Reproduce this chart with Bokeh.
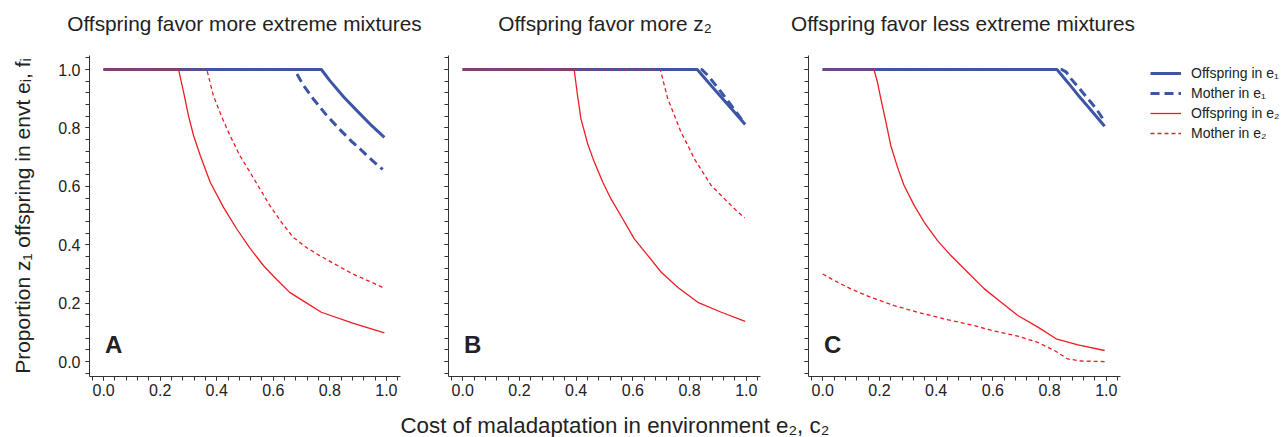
import numpy as np
from bokeh.plotting import figure
from bokeh.layouts import row, column
from bokeh.models import Range1d, Label, Legend, LegendItem, FixedTicker
from bokeh.embed import file_html
from bokeh.resources import INLINE

FONT = "Liberation Sans"
BLUE = "#3c55a5"
RED = "#ed1c24"
TXT = "#222222"

panel_titles = ["Offspring favor more extreme mixtures",
                "Offspring favor more z\u2082",
                "Offspring favor less extreme mixtures"]
panel_letters = ["A", "B", "C"]
tick_values = [0.0, 0.2, 0.4, 0.6, 0.8, 1.0]
tick_labels = ["0.0", "0.2", "0.4", "0.6", "0.8", "1.0"]
legend_labels = ["Offspring in e\u2081", "Mother in e\u2081",
                 "Offspring in e\u2082", "Mother in e\u2082"]
x_label = "Cost of maladaptation in environment e\u2082, c\u2082"
y_label = "Proportion z\u2081 offspring in envt e\u1d62, f\u1d62"

# Panel A
a_off1_x = [0.0, 0.770, 0.800, 0.850, 0.900, 0.950, 0.993]
a_off1_y = [1.0, 1.0, 0.962, 0.905, 0.855, 0.806, 0.768]
a_mom1_x = [0.0, 0.675, 0.705, 0.741, 0.788, 0.835, 0.876, 0.917, 0.952, 0.987]
a_mom1_y = [1.0, 1.0, 0.948, 0.900, 0.844, 0.795, 0.755, 0.719, 0.687, 0.658]
a_off2_x = [0.0, 0.265, 0.283, 0.300, 0.318, 0.342, 0.377, 0.424, 0.471, 0.518,
            0.565, 0.612, 0.658, 0.717, 0.770, 0.881, 0.993]
a_off2_y = [1.0, 1.0, 0.922, 0.842, 0.774, 0.705, 0.614, 0.528, 0.454, 0.388,
            0.329, 0.281, 0.237, 0.201, 0.169, 0.132, 0.098]
a_mom2_x = [0.0, 0.365, 0.388, 0.418, 0.447, 0.482, 0.518, 0.553, 0.588, 0.629,
            0.670, 0.717, 0.764, 0.823, 0.881, 0.940, 0.987]
a_mom2_y = [1.0, 1.0, 0.911, 0.837, 0.774, 0.705, 0.648, 0.591, 0.534, 0.477,
            0.426, 0.391, 0.363, 0.331, 0.300, 0.275, 0.254]

# Panel B
b_off1_x = [0.0, 0.827, 0.865, 0.912, 0.953, 0.996]
b_off1_y = [1.0, 1.0, 0.957, 0.905, 0.860, 0.812]
b_mom1_x = [0.0, 0.843, 0.865, 0.912, 0.947, 0.982, 0.990]
b_mom1_y = [1.0, 1.0, 0.979, 0.922, 0.877, 0.831, 0.820]
b_off2_x = [0.0, 0.393, 0.405, 0.417, 0.441, 0.464, 0.494, 0.523, 0.564, 0.605,
            0.653, 0.700, 0.759, 0.829, 0.912, 0.996]
b_off2_y = [1.0, 1.0, 0.911, 0.831, 0.745, 0.683, 0.614, 0.557, 0.489, 0.420,
            0.363, 0.306, 0.254, 0.203, 0.169, 0.138]
b_mom2_x = [0.0, 0.697, 0.711, 0.723, 0.747, 0.770, 0.794, 0.817, 0.847, 0.876,
            0.906, 0.935, 0.965, 0.994]
b_mom2_y = [1.0, 1.0, 0.945, 0.900, 0.842, 0.785, 0.740, 0.694, 0.648, 0.603,
            0.574, 0.546, 0.517, 0.492]

# Panel C
c_off1_x = [0.0, 0.826, 0.865, 0.900, 0.947, 0.994]
c_off1_y = [1.0, 1.0, 0.955, 0.913, 0.860, 0.806]
c_mom1_x = [0.0, 0.843, 0.859, 0.876, 0.906, 0.935, 0.965, 0.988]
c_mom1_y = [1.0, 1.0, 0.991, 0.968, 0.934, 0.900, 0.865, 0.831]
c_off2_x = [0.0, 0.181, 0.193, 0.205, 0.223, 0.240, 0.264, 0.287, 0.323, 0.358,
            0.405, 0.452, 0.511, 0.570, 0.629, 0.688, 0.759, 0.823, 0.900, 0.994]
c_off2_y = [1.0, 1.0, 0.957, 0.900, 0.820, 0.740, 0.665, 0.603, 0.534, 0.477,
            0.414, 0.363, 0.306, 0.249, 0.203, 0.158, 0.118, 0.078, 0.057, 0.038]
c_mom2_x = [0.0, 0.052, 0.099, 0.170, 0.252, 0.335, 0.429, 0.523, 0.600, 0.688,
            0.758, 0.817, 0.864, 0.912, 0.994]
c_mom2_y = [0.300, 0.272, 0.249, 0.220, 0.192, 0.169, 0.146, 0.126, 0.106, 0.087,
            0.066, 0.038, 0.009, 0.002, 0.0]

panels = [
    (a_off1_x, a_off1_y, a_mom1_x, a_mom1_y, a_off2_x, a_off2_y, a_mom2_x, a_mom2_y),
    (b_off1_x, b_off1_y, b_mom1_x, b_mom1_y, b_off2_x, b_off2_y, b_mom2_x, b_mom2_y),
    (c_off1_x, c_off1_y, c_mom1_x, c_mom1_y, c_off2_x, c_off2_y, c_mom2_x, c_mom2_y),
]

TOP_H = 40
ROW_H = 366
BOT_H = 31
TOTAL_W = 1280
widths = [436, 348, 356]
borders_left = [89, 12, 24]
borders_right = [36, 24, 20]
title_centers = [244, 604.5, 962.5]
minor = [round(-0.04 + 0.04 * i, 2) for i in range(28)]


def strip(width, height):
    s = figure(width=width, height=height, output_backend="svg", toolbar_location=None,
               title=None, x_range=Range1d(0, width), y_range=Range1d(0, height),
               x_axis_location=None, y_axis_location=None,
               min_border_left=0, min_border_right=0, min_border_top=0, min_border_bottom=0)
    s.outline_line_color = None
    s.grid.visible = False
    return s


# title strip
pt = strip(TOTAL_W, TOP_H)
for i in range(3):
    pt.add_layout(Label(x=title_centers[i], y=TOP_H - 23.3, text=panel_titles[i],
                        text_font=FONT, text_font_size="20.8px", text_color=TXT,
                        text_align="center", text_baseline="middle"))

figs = []
for i, data in enumerate(panels):
    p = figure(width=widths[i], height=ROW_H, output_backend="svg", toolbar_location=None,
               title=None,
               x_range=Range1d(-0.05, 1.05), y_range=Range1d(-0.051, 1.048),
               min_border_left=borders_left[i], min_border_right=borders_right[i],
               min_border_top=55 - TOP_H, min_border_bottom=ROW_H - (55 - TOP_H) - 321)
    p.outline_line_color = None
    p.grid.visible = False
    for ax in (p.xaxis[0], p.yaxis[0]):
        ax.ticker = FixedTicker(ticks=tick_values, minor_ticks=minor)
        ax.major_tick_out = 4
        ax.major_tick_in = 0
        ax.minor_tick_out = 4
        ax.minor_tick_in = 0
        ax.axis_line_color = "#333333"
        ax.major_tick_line_color = "#333333"
        ax.minor_tick_line_color = "#333333"
        ax.major_label_text_font = FONT
        ax.major_label_text_font_size = "16px"
        ax.major_label_text_color = TXT
        ax.axis_label_text_font = FONT
        ax.axis_label_text_font_size = "21px"
        ax.axis_label_text_font_style = "normal"
        ax.axis_label_text_color = TXT
    p.xaxis[0].major_label_standoff = 3
    p.yaxis[0].major_label_standoff = 5
    p.xaxis[0].major_label_overrides = {v: t for v, t in zip(tick_values, tick_labels)}
    if i == 0:
        p.yaxis[0].major_label_overrides = {v: t for v, t in zip(tick_values, tick_labels)}
        p.yaxis[0].axis_label = y_label
        p.yaxis[0].axis_label_standoff = 21
    else:
        p.yaxis[0].major_label_overrides = {v: "" for v in tick_values}
        p.yaxis[0].major_label_standoff = 0

    o1x, o1y, m1x, m1y, o2x, o2y, m2x, m2y = data
    p.line(o1x, o1y, line_color=BLUE, line_width=3)
    p.line(m1x, m1y, line_color=BLUE, line_width=3, line_dash="9 5")
    p.line(o2x, o2y, line_color=RED, line_width=1.3)
    p.line(m2x, m2y, line_color=RED, line_width=1.3, line_dash="4 3")

    p.add_layout(Label(x=0.005, y=0.060, text=panel_letters[i], text_font=FONT,
                       text_font_size="24px", text_font_style="bold",
                       text_color=TXT, text_baseline="middle"))
    figs.append(p)

# legend panel
LEG_W = TOTAL_W - sum(widths)
pl = figure(width=LEG_W, height=ROW_H, output_backend="svg", toolbar_location=None,
            title=None, x_range=Range1d(0, 1), y_range=Range1d(0, 1),
            x_axis_location=None, y_axis_location=None,
            min_border_left=0, min_border_right=0, min_border_top=3, min_border_bottom=0)
pl.outline_line_color = None
pl.grid.visible = False
nan = np.array([np.nan])
lr1 = pl.line(nan, nan, line_color=BLUE, line_width=3)
lr2 = pl.line(nan, nan, line_color=BLUE, line_width=3, line_dash="9 5")
lr3 = pl.line(nan, nan, line_color=RED, line_width=1.3)
lr4 = pl.line(nan, nan, line_color=RED, line_width=1.3, line_dash="4 3")
leg = Legend(items=[LegendItem(label=legend_labels[0], renderers=[lr1]),
                    LegendItem(label=legend_labels[1], renderers=[lr2]),
                    LegendItem(label=legend_labels[2], renderers=[lr3]),
                    LegendItem(label=legend_labels[3], renderers=[lr4])],
             location="top_left", padding=8, margin=10, spacing=4,
             glyph_width=31, glyph_height=16, label_height=16,
             label_standoff=10, label_text_font=FONT,
             label_text_font_size="14px", label_text_color=TXT,
             border_line_color=None, background_fill_alpha=0)
pl.add_layout(leg, "center")
figs.append(pl)

# shared x-axis label strip (text centre about 425 px from the page top)
px = strip(TOTAL_W, BOT_H)
px.add_layout(Label(x=400, y=BOT_H - 19.3, text=x_label, text_font=FONT,
                    text_font_size="22.3px", text_color=TXT,
                    text_align="left", text_baseline="middle"))

layout = column(pt, row(*figs), px)
open("out.html", "w").write(file_html(layout, INLINE))
